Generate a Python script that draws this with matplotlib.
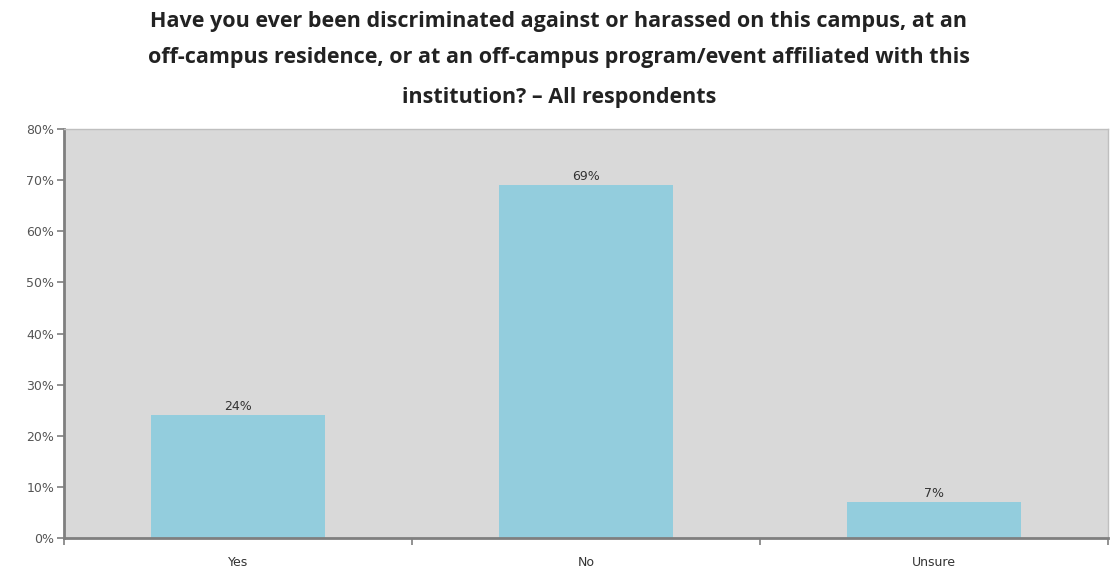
#!/usr/bin/env python

from matplotlib import pyplot as plt
from matplotlib.ticker import FixedLocator
import numpy as np

categories = ['Yes', 'No', 'Unsure']
percents = [24, 69, 7]
y_ticks = [0, 10, 20, 30, 40, 50, 60, 70, 80]

TITLE_LINES = ['Have you ever been discriminated against or harassed on this campus, at an',
               'off-campus residence, or at an off-campus program/event affiliated with this',
               'institution? \u2013 All respondents']

def main():
    fig = plt.figure(figsize=(11.18, 5.69), dpi=100)
    ax = fig.add_axes([0.0572, 0.0545, 0.9338, 0.7185])
    ax.set_facecolor('#d9d9d9')

    xs = np.arange(len(categories))
    ax.bar(xs, percents, width=0.5, color='#93cddd', zorder=2)
    for x, p in zip(xs, percents):
        ax.text(x, p + 0.5, '%d%%' % p, ha='center', va='bottom',
                fontsize=9, color='#333333', zorder=3)

    ax.set_xlim(-0.5, len(categories) - 0.5)
    ax.set_ylim(0, 80)
    ax.set_yticks(y_ticks)
    ax.set_yticklabels(['%d%%' % t for t in y_ticks])
    ax.set_xticks(xs)
    ax.set_xticklabels(categories)
    ax.tick_params(axis='x', length=0, pad=13, labelsize=9, labelcolor='#333333')
    ax.xaxis.set_minor_locator(FixedLocator(np.arange(len(categories) + 1) - 0.5))
    ax.tick_params(axis='x', which='minor', length=5, width=1.2, color='#7f7f7f', direction='out')
    ax.tick_params(axis='y', length=5, width=1.2, color='#7f7f7f', pad=2,
                   labelsize=9, labelcolor='#555555')

    for side in ['left', 'bottom']:
        ax.spines[side].set_color('#7f7f7f')
        ax.spines[side].set_linewidth(2)
    for side in ['top', 'right']:
        ax.spines[side].set_color('#bfbfbf')
        ax.spines[side].set_linewidth(1)

    # title lines placed one by one (reference spacing is uneven)
    title_y = [22, 58, 98]
    for line, ypx in zip(TITLE_LINES, title_y):
        fig.text(0.5, 1 - ypx / 569.0, line, ha='center', va='center', fontsize=15.5,
                 fontweight='bold', family=['Open Sans', 'DejaVu Sans'], color='#222222')

    fig.savefig('out.png', dpi=100)

if __name__ == '__main__':
    main()
